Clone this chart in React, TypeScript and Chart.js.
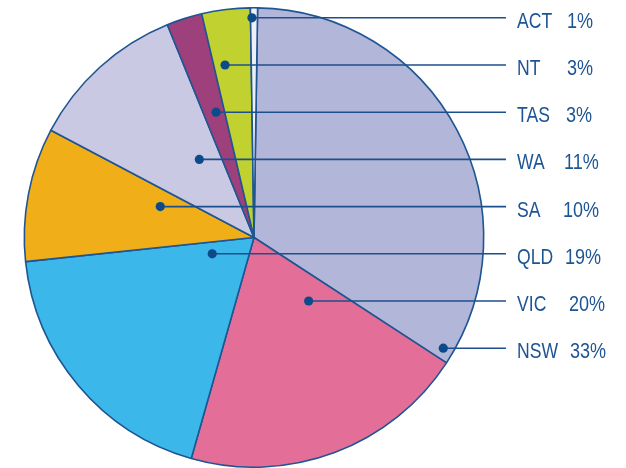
import React, { useEffect, useRef } from "react";
import { Chart, registerables } from "chart.js";

Chart.register(...registerables);

// Data (clockwise from 12 o'clock)
const states = ["NSW", "VIC", "QLD", "SA", "WA", "TAS", "NT", "ACT"];
const shares = [33.9, 20.2, 18.9, 9.4, 11.1, 2.5, 3.4, 0.5];
const shareLabels = ["33%", "20%", "19%", "10%", "11%", "3%", "3%", "1%"];

// Styling
const sliceColors = [
  "#b2b6d8",
  "#e36e97",
  "#3bb7e9",
  "#f0af19",
  "#c9c9e3",
  "#9e407c",
  "#c1d12f",
  "#eef0f8",
];
// dot horizontal offset from pie centre, as a fraction of the radius
const dotOffsets = [0.824, 0.238, -0.182, -0.408, -0.238, -0.165, -0.126, -0.009];
// percentage-label x positions for rows (top to bottom: ACT ... NSW)
const pctX = [567, 567, 566, 564, 563, 565, 569, 570];

const ROW_TOP = 17.8;
const ROW_GAP = 47.2;
const LINE_END_X = 506;
const NAME_X = 517;
const TEXT_COLOR = "#1d5493";
const LINE_COLOR = "#1c4f8d";
const DOT_COLOR = "#0c4a8a";

const leaderPlugin = {
  id: "leaders",
  afterDraw(chart: any) {
    const ctx = chart.ctx as CanvasRenderingContext2D;
    const meta = chart.getDatasetMeta(0);
    const n = states.length;
    ctx.save();
    for (let i = 0; i < n; i++) {
      const arc: any = meta.data[i];
      const row = n - 1 - i;
      const y = ROW_TOP + row * ROW_GAP;
      const dx = arc.x + dotOffsets[i] * arc.outerRadius;
      ctx.strokeStyle = LINE_COLOR;
      ctx.lineWidth = 1.6;
      ctx.beginPath();
      ctx.moveTo(dx, y);
      ctx.lineTo(LINE_END_X, y);
      ctx.stroke();
      ctx.fillStyle = DOT_COLOR;
      ctx.beginPath();
      ctx.arc(dx, y, 4.6, 0, Math.PI * 2);
      ctx.fill();

      ctx.fillStyle = TEXT_COLOR;
      ctx.font = "22px 'Liberation Sans', Arial, sans-serif";
      ctx.textBaseline = "alphabetic";
      ctx.textAlign = "left";
      const base = y + 10;
      ctx.save();
      ctx.translate(NAME_X, base);
      ctx.scale(0.8, 1);
      ctx.fillText(states[i], 0, 0);
      ctx.restore();
      ctx.save();
      ctx.translate(pctX[row], base);
      ctx.scale(0.82, 1);
      ctx.fillText(shareLabels[i], 0, 0);
      ctx.restore();
    }
    ctx.restore();
  },
};

export default function App() {
  const ref = useRef<HTMLCanvasElement | null>(null);
  useEffect(() => {
    if (!ref.current) return;
    const chart = new Chart(ref.current, {
      type: "pie",
      data: {
        labels: states,
        datasets: [
          {
            data: shares,
            backgroundColor: sliceColors,
            borderColor: "#1f5592",
            borderWidth: 1.6,
            hoverOffset: 0,
            offset: 0,
          },
        ],
      },
      options: {
        animation: false,
        responsive: false,
        rotation: 0.9,
        layout: { padding: { left: 23, right: 141, top: 7, bottom: 0 } },
        plugins: {
          legend: { display: false },
          tooltip: { enabled: false },
        },
      },
      plugins: [leaderPlugin],
    });
    return () => chart.destroy();
  }, []);
  return (
    <div style={{ position: "fixed", left: 0, top: 0, width: 626, height: 468, background: "#fff" }}>
      <canvas ref={ref} width={626} height={468} style={{ width: 626, height: 468 }} />
    </div>
  );
}
